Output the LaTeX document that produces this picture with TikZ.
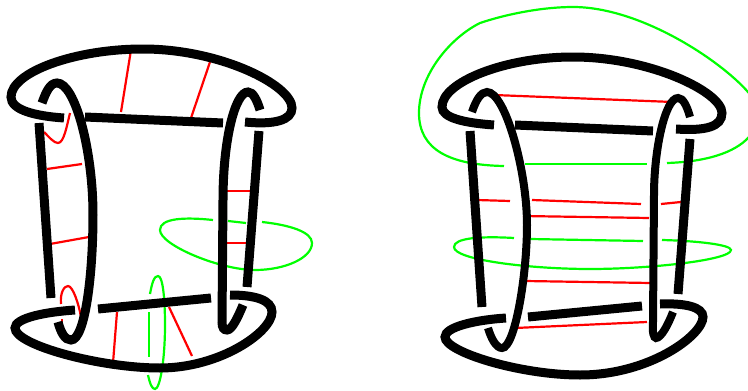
\documentclass[tikz,border=0pt]{standalone}
\definecolor{pure}{rgb}{0,1,0}
\definecolor{purered}{rgb}{1,0,0}
\begin{document}
\begin{tikzpicture}[x=1pt,y=-1pt,
  strand/.style={line width=9pt,black,line cap=butt},
  thin strand/.style={line width=8pt,black,line cap=butt},
  arcred/.style={line width=2.2pt,purered},
  arcgreen/.style={line width=2.2pt,pure}]
\useasboundingbox (0,0) rectangle (748,391);
% ---- left figure: red
\draw[arcred] (131,50)--(121,112);
\draw[arcred] (210,62)--(191,118);
\draw[arcred] (44,132) .. controls (50,138) and (54,143) .. (58,143) .. controls (64,143) and (67,125) .. (70,113);
\draw[arcred] (47,169)--(82,164);
\draw[arcred] (225,191)--(253,191);
\draw[arcred] (50,244)--(89,237);
\draw[arcred] (227,243)--(249,243);
\draw[arcred] (61,304) .. controls (60,293) and (64,286) .. (68,286) .. controls (73,286) and (79,305) .. (81,317);
\draw[arcred] (62,319)--(62,329);
\draw[arcred] (117,312)--(113,363);
\draw[arcred] (169,307)--(192,356);
% ---- left figure: green
\draw[arcgreen] (213,220) .. controls (185,217) and (160,218) .. (160,230) .. controls (160,245) and (220,270) .. (255,270) .. controls (285,270) and (312,258) .. (312,243) .. controls (312,232) and (290,225) .. (262,222);
\draw[arcgreen] (228,221)--(246,223);
\draw[arcgreen] (150,294) .. controls (152,283) and (154,276) .. (158,276) .. controls (163,276) and (165,300) .. (165,325) .. controls (165,360) and (160,389) .. (155,389) .. controls (152,389) and (150,384) .. (148,375);
\draw[arcgreen] (149,312)--(149,357);
% ---- left figure: black
\draw[strand] (64,118) .. controls (35,116) and (11,110) .. (11,97) .. controls (11,72) and (75,49) .. (143,49) .. controls (220,49) and (292,85) .. (292,108) .. controls (292,120) and (275,125) .. (245,122);
\draw[strand] (85,117)--(223,123);
\draw[strand] (42,103) .. controls (46,92) and (50,83) .. (57,83) .. controls (75,83) and (93,150) .. (93,215) .. controls (93,275) and (85,340) .. (71,340) .. controls (65,340) and (61,333) .. (58,322);
\draw[strand] (39,123)--(51,298);
\draw[strand] (75,310) .. controls (45,312) and (15,318) .. (15,328) .. controls (15,345) and (100,368) .. (160,368) .. controls (220,368) and (272,332) .. (272,312) .. controls (272,300) and (255,295) .. (230,295);
\draw[strand] (98,309)--(211,298);
\draw[strand] (260,110) .. controls (257,100) and (253,92) .. (248,92) .. controls (235,92) and (223,140) .. (223,200) -- (222,322) .. controls (222,328) and (224,330) .. (227,330) .. controls (232,330) and (238,317) .. (243,305);
\draw[strand] (259,131)--(247,287);
% ---- right figure: red
\draw[arcred] (494,95)--(673,102);
\draw[arcred] (477,200)--(510,201);
\draw[arcred] (532,200)--(641,204);
\draw[arcred] (661,204)--(681,202);
\draw[arcred] (523,216)--(649,218);
\draw[arcred] (525,281)--(651,283);
\draw[arcred] (515,328)--(647,322);
% ---- right figure: green
\draw[arcgreen] (504,166) .. controls (450,165) and (419,150) .. (419,113) .. controls (419,75) and (450,38) .. (480,23) .. controls (510,13) and (545,7) .. (573,7) .. controls (640,7) and (720,60) .. (748,92) .. controls (770,115) and (760,160) .. (667,163);
\draw[arcgreen] (525,164)--(647,164);
\draw[arcgreen] (514,238) .. controls (480,236) and (454,238) .. (454,247) .. controls (454,260) and (530,269) .. (590,269) .. controls (650,269) and (731,260) .. (731,250) .. controls (731,245) and (700,241) .. (662,240);
\draw[arcgreen] (530,239)--(643,241);
% ---- right figure: black
\draw[strand] (494,125) .. controls (465,123) and (442,118) .. (442,107) .. controls (442,82) and (505,57) .. (573,57) .. controls (650,57) and (722,92) .. (722,113) .. controls (722,127) and (705,131) .. (676,129);
\draw[strand] (515,125)--(653,131);
\draw[thin strand] (472,112) .. controls (476,100) and (481,92) .. (487,92) .. controls (505,92) and (527,170) .. (527,225) .. controls (527,275) and (515,348) .. (502,348) .. controls (496,348) and (491,338) .. (488,328);
\draw[strand] (470,131)--(482,307);
\draw[strand] (506,318) .. controls (475,320) and (445,327) .. (445,337) .. controls (445,352) and (520,375) .. (580,375) .. controls (650,375) and (703,335) .. (703,317) .. controls (703,307) and (685,303) .. (660,304);
\draw[strand] (528,317)--(642,306);
\draw[thin strand] (690,117) .. controls (687,106) and (683,98) .. (678,98) .. controls (665,98) and (654,150) .. (654,195) -- (653,322) .. controls (652,333) and (654,338) .. (656,338) .. controls (661,338) and (668,325) .. (673,312);
\draw[strand] (690,139)--(678,294);
\end{tikzpicture}
\end{document}
